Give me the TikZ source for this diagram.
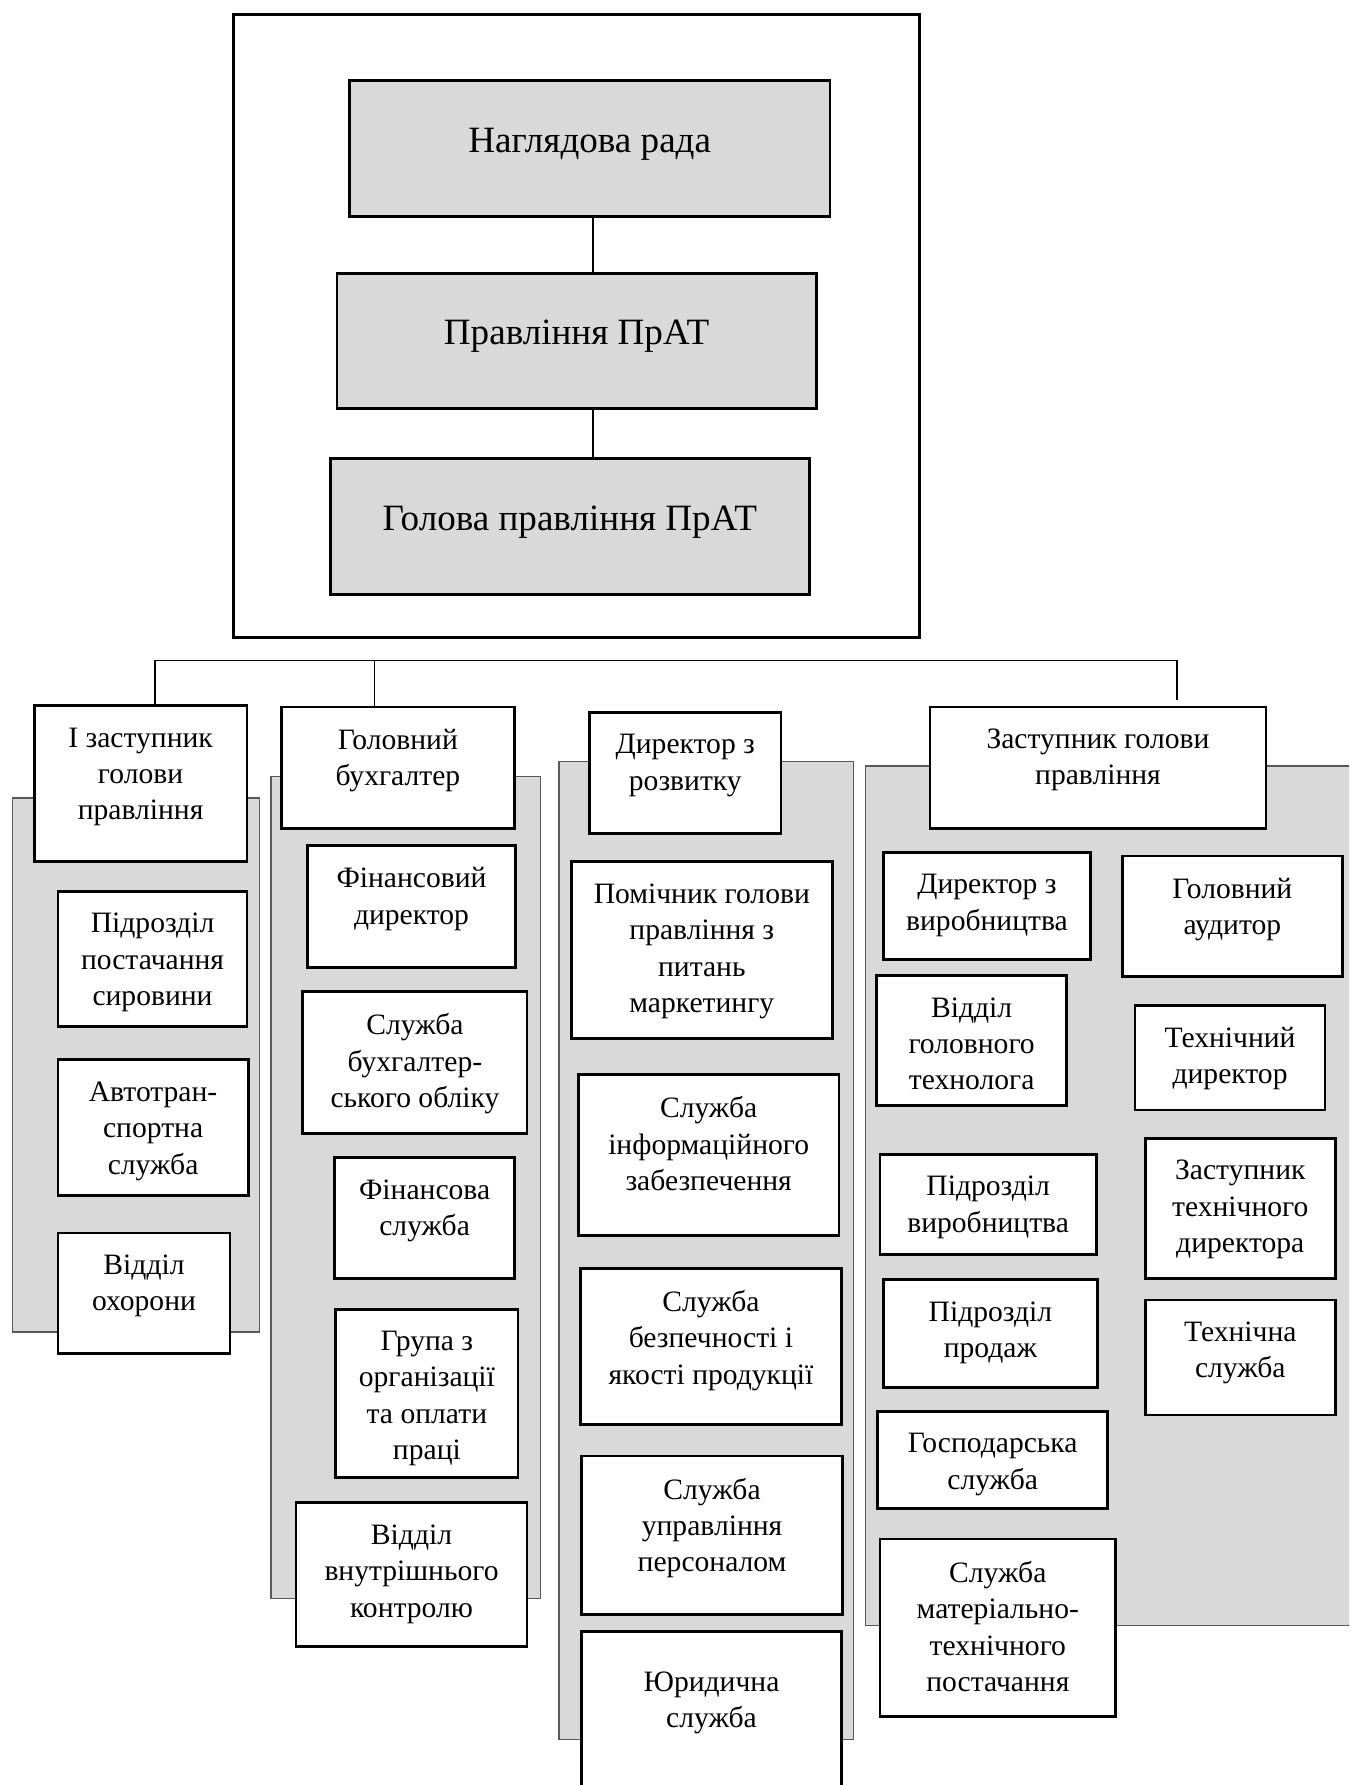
\documentclass[tikz,border=0pt]{standalone}
\usepackage{fontspec}
\setmainfont{Liberation Serif}
\usepackage{xcolor}
\usetikzlibrary{fit}
\definecolor{panelgray}{RGB}{217,217,217}

\begin{document}
\begin{tikzpicture}[x=0.5pt, y=-0.5pt,
    unit/.style={draw, fill=white, line width=1.2pt, inner sep=0pt},
    boss/.style={unit, fill=panelgray},
    panel/.style={fill=panelgray, draw=black!65, line width=0.6pt},
    link/.style={line width=0.6pt},
    utext/.style={anchor=north, align=center, inner xsep=0pt, inner ysep=10pt,
        font=\fontsize{13}{16}\selectfont, execute at begin node=\strut},
    btext/.style={utext, inner ysep=18.5pt, font=\fontsize{16.3}{19}\selectfont}]
    \useasboundingbox (0,0) rectangle (1185,1568);
    \clip (0,0) rectangle (1185,1568);

    \draw[line width=1.2pt] (205,13) rectangle (808,560);
    \node[boss, fit={(307,71) (729,190)}] (nr) {};
    \node[btext] at (nr.north) {Наглядова рада};
    \node[boss, fit={(296,240) (717,359)}] (pr) {};
    \node[btext] at (pr.north) {Правління ПрАТ};
    \node[boss, fit={(290,403) (711,522)}] (gp) {};
    \node[btext] at (gp.north) {Голова правління ПрАТ};

    \coordinate (spine) at (521,0);
    \draw[link] (nr.south -| spine) -- (pr.north -| spine);
    \draw[link] (pr.south -| spine) -- (gp.north -| spine);

    \draw[panel] (11,701) rectangle (228,1170);
    \draw[panel] (238,682) rectangle (475,1404);
    \draw[panel] (491,669) rectangle (750,1528);
    \draw[panel] (760,673) rectangle (1200,1428);

    \node[unit, fit={(30,620) (217,757)}] (z1) {};
    \node[utext] at (z1.north) {І заступник\\голови\\правління};
    \node[unit, fit={(51,783) (217,902)}] (ps) {};
    \node[utext] at (ps.north) {Підрозділ\\постачання\\сировини};
    \node[unit, fit={(51,931) (218,1050)}] (ats) {};
    \node[utext] at (ats.north) {Автотран-\\спортна\\служба};
    \node[unit, fit={(51,1083) (202,1189)}] (vo) {};
    \node[utext] at (vo.north) {Відділ\\охорони};

    \node[unit, fit={(247,621) (452,728)}] (gb) {};
    \node[utext] at (gb.north) {Головний\\бухгалтер};
    \node[unit, fit={(270,743) (453,850)}] (fd) {};
    \node[utext] at (fd.north) {Фінансовий\\директор};
    \node[unit, fit={(266,871) (463,996)}] (sbo) {};
    \node[utext] at (sbo.north) {Служба\\бухгалтер-\\ського обліку};
    \node[unit, fit={(294,1017) (452,1123)}] (fs) {};
    \node[utext] at (fs.north) {Фінансова\\служба};
    \node[unit, fit={(295,1150) (455,1298)}] (gr) {};
    \node[utext] at (gr.north) {Група з\\організації\\та оплати\\праці};
    \node[unit, fit={(260,1320) (463,1446)}] (vvk) {};
    \node[utext] at (vvk.north) {Відділ\\внутрішнього\\контролю};

    \node[unit, fit={(518,626) (686,732)}] (dr) {};
    \node[utext] at (dr.north) {Директор з\\розвитку};
    \node[unit, fit={(502,757) (731,912)}] (pm) {};
    \node[utext] at (pm.north) {Помічник голови\\правління з\\питань\\маркетингу};
    \node[unit, fit={(508,944) (737,1085)}] (sie) {};
    \node[utext] at (sie.north) {Служба\\інформаційного\\забезпечення};
    \node[unit, fit={(510,1114) (739,1251)}] (sbq) {};
    \node[utext] at (sbq.north) {Служба\\безпечності і\\якості продукції};
    \node[unit, fit={(511,1279) (740,1418)}] (sup) {};
    \node[utext] at (sup.north) {Служба\\управління\\персоналом};
    \node[unit, fit={(511,1433) (739,1600)}] (yur) {};
    \node[utext, yshift=-8pt] at (yur.north) {Юридична\\служба};

    \node[unit, fit={(817,621) (1112,728)}] (zg) {};
    \node[utext] at (zg.north) {Заступник голови\\правління};
    \node[unit, fit={(776,749) (958,843)}] (dv) {};
    \node[utext] at (dv.north) {Директор з\\виробництва};
    \node[unit, fit={(986,752) (1179,858)}] (ga) {};
    \node[utext] at (ga.north) {Головний\\аудитор};
    \node[unit, fit={(770,857) (937,971)}] (vgt) {};
    \node[utext] at (vgt.north) {Відділ\\головного\\технолога};
    \node[unit, fit={(997,883) (1164,975)}] (td) {};
    \node[utext] at (td.north) {Технічний\\директор};
    \node[unit, fit={(773,1014) (963,1102)}] (pv) {};
    \node[utext] at (pv.north) {Підрозділ\\виробництва};
    \node[unit, fit={(1006,1000) (1173,1123)}] (ztd) {};
    \node[utext] at (ztd.north) {Заступник\\технічного\\директора};
    \node[unit, fit={(776,1124) (964,1219)}] (pp) {};
    \node[utext] at (pp.north) {Підрозділ\\продаж};
    \node[unit, fit={(1006,1142) (1173,1243)}] (ts) {};
    \node[utext] at (ts.north) {Технічна\\служба};
    \node[unit, fit={(771,1240) (973,1325)}] (gs) {};
    \node[utext] at (gs.north) {Господарська\\служба};
    \node[unit, fit={(773,1352) (980,1508)}] (smtp) {};
    \node[utext] at (smtp.north) {Служба\\матеріально-\\технічного\\постачання};

    \coordinate (busL) at (136,580);
    \coordinate (busB) at (329,580);
    \coordinate (busR) at (1034,580);
    \draw[link] (busL) -- (busR);
    \draw[link] (busL) -- (busL |- z1.north);
    \draw[link] (busB) -- (busB |- gb.north);
    \draw[link] (busR) -- ([yshift=2.5pt]busR |- zg.north);
\end{tikzpicture}
\end{document}
